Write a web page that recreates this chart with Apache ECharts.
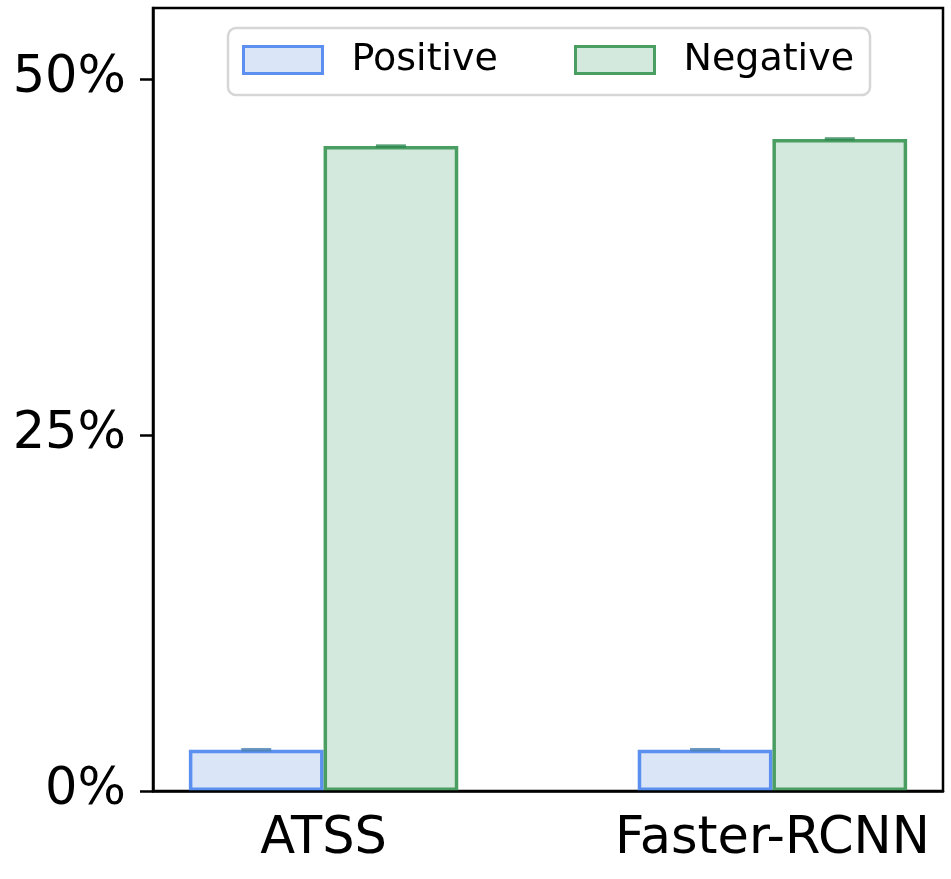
<!DOCTYPE html>
<html>
<head>
<meta charset="UTF-8">
<script src="https://cdn.jsdelivr.net/npm/echarts@6/dist/echarts.min.js"></script>
<style>
  html, body { margin: 0; padding: 0; background: #fff; }
  #main { width: 951px; height: 879px; }
</style>
</head>
<body>
<div id="main"></div>
<script>
// chart data
var categories = ['ATSS', 'Faster-RCNN'];
var positive = [2.9, 2.9];
var negative = [45.3, 45.8];
var yTicks = [0, 25, 50];
var xTicks = [0, 1];

var font = 'DejaVu Sans';
var barW = 134.7;

function pairs(arr) {
  return arr.map(function (v, i) { return [i, v]; });
}

var myChart = echarts.init(document.getElementById('main'));

var option = {
  animation: false,
  backgroundColor: '#fff',
  grid: {
    left: 153, right: 8, top: 8, bottom: 88,
    show: true,
    borderColor: '#000',
    borderWidth: 2.5,
    backgroundColor: 'transparent'
  },
  legend: {
    left: 228, top: 28,
    padding: [13, 16, 16, 14],
    itemWidth: 79, itemHeight: 27,
    itemGap: 76,
    borderColor: '#d6d6d6',
    borderWidth: 2.5,
    borderRadius: 8,
    backgroundColor: '#fff',
    textStyle: { fontFamily: font, fontSize: 38, color: '#000', padding: [0, 0, 0, 24] },
    data: [
      { name: 'Positive', icon: 'rect', itemStyle: { color: '#dae5f8', borderColor: '#5b8ff0', borderWidth: 3 } },
      { name: 'Negative', icon: 'rect', itemStyle: { color: '#d4e9dd', borderColor: '#4b9e62', borderWidth: 3 } }
    ]
  },
  xAxis: {
    type: 'value',
    min: -0.38, max: 1.38,
    z: 5,
    splitLine: { show: false },
    axisTick: { show: false },
    axisLine: { show: true, onZero: false, lineStyle: { color: '#000', width: 2.5 } },
    axisLabel: {
      customValues: xTicks,
      margin: 23,
      fontFamily: font, fontSize: 51, color: '#000',
      formatter: function (v) { return categories[Math.round(v)]; }
    }
  },
  yAxis: {
    type: 'value',
    min: 0, max: 55, interval: 25,
    z: 5,
    splitLine: { show: false },
    axisLine: { show: true, onZero: false, lineStyle: { color: '#000', width: 2.5 } },
    axisTick: { show: true, inside: false, length: 13, customValues: yTicks, lineStyle: { color: '#000', width: 2.5 } },
    axisLabel: {
      customValues: yTicks,
      margin: 27,
      fontFamily: font, fontSize: 51, color: '#000',
      formatter: '{value}%'
    }
  },
  series: [
    {
      name: 'Positive', type: 'bar',
      barWidth: barW, barGap: '0%',
      itemStyle: { color: '#dae5f8', borderColor: '#5b8ff0', borderWidth: 3.5 },
      data: pairs(positive)
    },
    {
      name: 'Negative', type: 'bar',
      barWidth: barW, barGap: '0%',
      itemStyle: { color: '#d4e9dd', borderColor: '#4b9e62', borderWidth: 3.5 },
      data: pairs(negative)
    },
    {
      // zero-length error bar caps
      type: 'scatter', symbol: 'rect', symbolSize: [30, 3.5],
      symbolOffset: [-barW / 2, 0], z: 4, silent: true,
      itemStyle: { color: '#4a7fb0' },
      data: pairs(positive)
    },
    {
      type: 'scatter', symbol: 'rect', symbolSize: [30, 3.5],
      symbolOffset: [barW / 2, 0], z: 4, silent: true,
      itemStyle: { color: '#2d8753' },
      data: pairs(negative)
    }
  ]
};

myChart.setOption(option);
</script>
</body>
</html>
